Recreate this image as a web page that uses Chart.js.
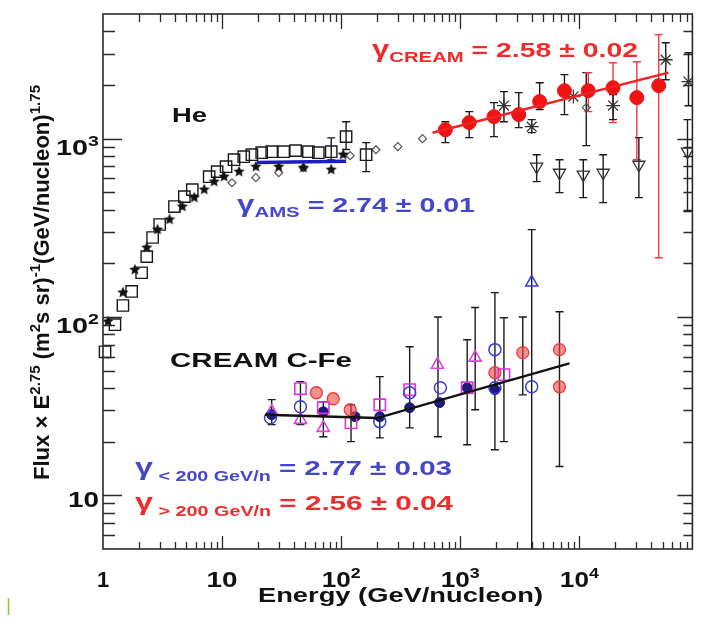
<!DOCTYPE html>
<html>
<head>
<meta charset="utf-8">
<script src="https://cdn.jsdelivr.net/npm/chart.js@4/dist/chart.umd.min.js"></script>
<style>
  html, body { margin: 0; padding: 0; background: #fff; }
  canvas { display: block; }
</style>
</head>
<body>
<canvas id="c" width="702" height="627"></canvas>
<script>
// ---------------- axis ranges and tick labels ----------------
const xMin = 1, xMax = 89000;
const yMin = 5, yMax = 5000;
const xTickVals = [1, 10, 100, 1000, 10000];
const xTickBase = ['1', '10', '10', '10', '10'];
const xTickExp  = ['', '', '2', '3', '4'];
const yTickVals = [10, 100, 1000];
const yTickBase = ['10', '10', '10'];
const yTickExp  = ['', '2', '3'];

// ---------------- He: open squares ----------------
const heSqE  = [1.04, 1.26, 1.47, 1.74, 2.11, 2.33, 2.61, 2.99, 3.98, 4.82, 5.62, 7.79, 9.09, 10.8, 12.6, 15.2, 17.8, 21.5, 26.1, 32.9, 41.4, 53.1, 64.3, 82.5, 110, 162];
const heSqF  = [63.8, 90.5, 116, 139, 177, 218, 279, 330, 416, 473, 518, 612, 653, 696, 762, 792, 813, 834, 845, 845, 857, 845, 834, 845, 1026, 813];
const heSqLo = [null, null, null, null, null, null, null, null, null, null, null, null, null, null, null, null, null, null, null, null, null, null, null, 760, 870, 653];
const heSqHi = [null, null, null, null, null, null, null, null, null, null, null, null, null, null, null, null, null, null, null, null, null, null, null, 1010, 1245, 950];

// ---------------- He: filled stars ----------------
const heStarE = [1.10, 1.47, 1.85, 2.33, 2.87, 3.62, 4.64, 5.84, 7.08, 8.58, 10.4, 13.9, 19.2, 29.9, 48.2, 82.5, 104];
const heStarF = [94.2, 137, 184, 245, 309, 352, 416, 467, 518, 574, 612, 653, 696, 696, 687, 670, 813];

// ---------------- He: small open diamonds ----------------
const heDiaE  = [12.1, 19.2, 29.9, 48.2, 119, 196, 299, 482, 11430];
const heDiaF  = [566, 604, 644, 687, 803, 867, 902, 1000, 1493];
const heDiaLo = [null, null, null, null, null, null, null, null, 914];
const heDiaHi = [null, null, null, null, null, null, null, null, 2345];

// ---------------- He: CREAM (filled red circles) ----------------
const creamE  = [750, 1189, 1920, 3100, 4642, 7499, 11890, 19190, 30400, 46420];
const creamF  = [1122, 1230, 1328, 1364, 1614, 1858, 1858, 1931, 1699, 1982];
const creamLo = [950, 1013, 1026, 1153, 1455, 1364, 1417, 1230, 762, 215];
const creamHi = [1245, 1417, 1593, 1811, 2060, 2285, 2345, 2667, 2700, 3830];

// ---------------- He: asterisks ----------------
const heAstE  = [2327, 3981, 8913, 19190, 53090, 82540];
const heAstF  = [1532, 1167, 1721, 1532, 2770, 2090];
const heAstLo = [1245, 1081, null, 1279, 2140, 1530];
const heAstHi = [1835, 1279, null, 1765, 3450, 3030];

// ---------------- He: open down-triangles ----------------
const heTriE  = [4381, 6813, 10790, 15850, 31620, 80970];
const heTriF  = [696, 644, 628, 644, 714, 845];
const heTriLo = [574, 498, 467, 438, 467, 390];
const heTriHi = [813, 762, 762, 813, 1013, 1279];

// ---------------- CREAM C-Fe ----------------
const cfeMagSqE  = [45.5, 70.8, 121, 211, 376, 1143, 2327];
const cfeMagSqF  = [39.6, 31.0, 25.5, 32.2, 39.1, 40.1, 47.5];
const cfeMagTriE = [26.1, 45.5, 70.8, 643, 1334];
const cfeMagTriF = [29.4, 26.5, 23.9, 54.0, 59.2];
const cfeBlueE   = [25.5, 45.5, 211, 376, 681, 1955, 1955, 3981];
const cfeBlueF   = [27.2, 31.4, 25.9, 37.6, 40.1, 65.6, 40.1, 40.6];
const cfeBlueTriE = [3981];
const cfeBlueTriF = [156];
const cfeNavyE   = [26.1, 70.8, 131, 211, 376, 671, 1143, 1955];
const cfeNavyF   = [28.3, 29.4, 27.6, 27.6, 31.0, 33.1, 40.1, 39.1];
const cfeRedE    = [61.9, 85.8, 119, 1955, 3350, 6813, 6813];
const cfeRedF    = [37.6, 34.8, 30.2, 48.7, 63.1, 65.6, 40.6];
// uncertainty whiskers of the C-Fe groups
const cfeBarE  = [26.1, 45.5, 70.8, 121, 211, 376, 650, 1143, 1334, 1955, 2327, 3350, 3981, 6813];
const cfeBarLo = [24.9, 24.9, 21.3, 20.0, 21.0, 23.9, 21.3, 19.2, 30.2, 18.0, 20.0, 36.6, 5, 14.5];
const cfeBarHi = [34.4, 43.4, 33.5, 32.2, 46.3, 68.1, 100, 74.6, 113, 137, 99, 100, 309, 107];

// ---------------- power-law fits (flux × E^2.75 ∝ E^(2.75-γ)) ----------------
const gammaAMS = 2.74;
const gammaCREAM = 2.58;
const gammaLow = 2.77, gammaHigh = 2.56;
const amsFitE = [19.6, 110];      const amsFitF0 = 735;
const creamFitE = [585, 56000];   const creamFitF0 = 1080;
const cfeFitE = [23, 200, 8260];  const cfeFitF0 = 28.3;

function powerLaw(E, F0, gammas) {
  // broken power law through successive energy nodes
  const out = [{ x: E[0], y: F0 }];
  let f = F0;
  for (let i = 1; i < E.length; i++) {
    f = f * Math.pow(E[i] / E[i - 1], 2.75 - gammas[i - 1]);
    out.push({ x: E[i], y: f });
  }
  return out;
}
const pts = (xs, ys) => xs.map((v, i) => ({ x: v, y: ys[i] }));

// ---------------- marker sprites ----------------
function starSprite(r, color) {
  const s = Math.ceil(r * 2 + 2);
  const c = document.createElement('canvas');
  c.width = c.height = s;
  const g = c.getContext('2d');
  g.fillStyle = color;
  g.beginPath();
  for (let i = 0; i < 10; i++) {
    const a = -Math.PI / 2 + i * Math.PI / 5;
    const rr = i % 2 ? r * 0.45 : r;
    g.lineTo(s / 2 + rr * Math.cos(a), s / 2 + rr * Math.sin(a));
  }
  g.closePath();
  g.fill();
  return c;
}
const starImg = starSprite(6, '#111');

const FONT = '"Liberation Sans", Arial, Helvetica, sans-serif';
const BLUE_TXT = '#4646cc';
const RED_TXT = '#ee2c2c';

// ---------------- plugins ----------------
const errorBars = {
  id: 'errorBars',
  beforeDatasetsDraw(chart) {
    const { ctx, chartArea: a, scales: { x, y } } = chart;
    ctx.save();
    ctx.beginPath();
    ctx.rect(a.left, a.top, a.right - a.left, a.bottom - a.top);
    ctx.clip();
    chart.data.datasets.forEach((ds) => {
      if (!ds.errLo) return;
      ds.data.forEach((p, j) => {
        const lo = ds.errLo[j], hi = ds.errHi[j];
        if (lo == null || hi == null) return;
        const px = x.getPixelForValue(p.x);
        const y1 = y.getPixelForValue(lo), y2 = y.getPixelForValue(hi);
        ctx.strokeStyle = ds.errColor ? ds.errColor(j) : '#1a1a1a';
        ctx.lineWidth = ds.errWidth || 1.4;
        ctx.beginPath();
        ctx.moveTo(px, y1); ctx.lineTo(px, y2);
        const cw = 4;
        ctx.moveTo(px - cw, y2); ctx.lineTo(px + cw, y2);
        if (lo > yMin) { ctx.moveTo(px - cw, y1); ctx.lineTo(px + cw, y1); }
        ctx.stroke();
      });
    });
    ctx.restore();
  }
};

function drawRich(ctx, x, y, parts, color, targetW, align) {
  let w = 0;
  for (const p of parts) {
    ctx.font = `bold ${p.size}px ${FONT}`;
    w += ctx.measureText(p.t).width;
  }
  const sx = targetW ? targetW / w : 1;
  ctx.save();
  ctx.fillStyle = color;
  ctx.textBaseline = 'alphabetic';
  ctx.textAlign = 'left';
  let x0 = x;
  if (align === 'center') x0 = x - w * sx / 2;
  if (align === 'right') x0 = x - w * sx;
  ctx.translate(x0, y);
  ctx.scale(sx, 1);
  let cx = 0;
  for (const p of parts) {
    ctx.font = `bold ${p.size}px ${FONT}`;
    ctx.fillText(p.t, cx, p.dy || 0);
    cx += ctx.measureText(p.t).width;
  }
  ctx.restore();
}

function logTicks(min, max) {
  const out = [];
  for (let d = Math.floor(Math.log10(min)); d <= Math.ceil(Math.log10(max)); d++) {
    for (let m = 1; m <= 9; m++) {
      const v = m * Math.pow(10, d);
      if (v > min * 1.001 && v < max * 0.999) out.push({ v, major: m === 1 });
    }
  }
  return out;
}

const frame = {
  id: 'frame',
  afterDraw(chart) {
    const { ctx, chartArea: a, scales: { x, y } } = chart;
    ctx.save();
    ctx.strokeStyle = '#2a2a2a';
    ctx.lineCap = 'butt';
    // ticks on all four sides, pointing inward
    ctx.lineWidth = 1.3;
    ctx.beginPath();
    for (const t of logTicks(x.min, x.max)) {
      const px = Math.round(x.getPixelForValue(t.v)) + 0.5;
      const lb = t.major ? 13 : 7, lt = t.major ? 15 : 8;
      ctx.moveTo(px, a.bottom); ctx.lineTo(px, a.bottom - lb);
      ctx.moveTo(px, a.top); ctx.lineTo(px, a.top + lt);
    }
    for (const t of logTicks(y.min, y.max)) {
      const py = Math.round(y.getPixelForValue(t.v)) + 0.5;
      const ll = t.major ? 19 : 12, lr = t.major ? 15 : 9;
      ctx.moveTo(a.left, py); ctx.lineTo(a.left + ll, py);
      ctx.moveTo(a.right, py); ctx.lineTo(a.right - lr, py);
    }
    ctx.stroke();
    ctx.lineWidth = 1.6;
    ctx.strokeRect(a.left, a.top, a.right - a.left, a.bottom - a.top);

    // x tick labels
    xTickVals.forEach((v, i) => {
      const px = x.getPixelForValue(v);
      const parts = [{ t: xTickBase[i], size: 22 }];
      if (xTickExp[i]) parts.push({ t: xTickExp[i], size: 15, dy: -9 });
      const w = xTickExp[i] ? 39 : (xTickBase[i].length === 1 ? 0 : 31);
      drawRich(ctx, px, 587, parts, '#111', w || null, 'center');
    });
    // y tick labels
    const yBase = [507, 333, 155];
    yTickVals.forEach((v, i) => {
      const parts = [{ t: yTickBase[i], size: 22 }];
      if (yTickExp[i]) parts.push({ t: yTickExp[i], size: 15, dy: -9 });
      drawRich(ctx, 99, yBase[i], parts, '#111', yTickExp[i] ? 43 : 31, 'right');
    });

    // axis titles
    drawRich(ctx, 258, 602, [{ t: 'Energy (GeV/nucleon)', size: 21 }], '#111', 285);
    ctx.save();
    ctx.translate(49, 480);
    ctx.rotate(-Math.PI / 2);
    drawRich(ctx, 0, 0, [
      { t: 'Flux × E', size: 22 },
      { t: '2.75', size: 15, dy: -9 },
      { t: ' (m', size: 22 },
      { t: '2', size: 15, dy: -9 },
      { t: 's sr)', size: 22 },
      { t: '-1', size: 15, dy: -9 },
      { t: '(GeV/nucleon)', size: 22 },
      { t: '1.75', size: 15, dy: -9 }
    ], '#111', 395);
    ctx.restore();

    // annotations
    drawRich(ctx, 172, 122, [{ t: 'He', size: 20 }], '#111', 35);
    drawRich(ctx, 170, 367, [{ t: 'CREAM C-Fe', size: 21 }], '#111', 182);
    drawRich(ctx, 237, 212, [
      { t: 'γ', size: 23 }, { t: 'AMS', size: 15, dy: 5 }, { t: ' = 2.74 ± 0.01', size: 21 }
    ], BLUE_TXT, 238);
    drawRich(ctx, 372, 57, [
      { t: 'γ', size: 23 }, { t: 'CREAM', size: 15, dy: 5 }, { t: ' = 2.58 ± 0.02', size: 21 }
    ], RED_TXT, 266);
    drawRich(ctx, 135, 475, [
      { t: 'γ', size: 23 }, { t: ' < 200 GeV/n', size: 14, dy: 6 }, { t: ' = 2.77 ± 0.03', size: 21 }
    ], BLUE_TXT, 317);
    drawRich(ctx, 135, 510, [
      { t: 'γ', size: 23 }, { t: ' > 200 GeV/n', size: 14, dy: 6 }, { t: ' = 2.56 ± 0.04', size: 21 }
    ], RED_TXT, 318);

    // small green mark near the lower-left corner
    ctx.strokeStyle = '#8cc63e';
    ctx.lineWidth = 1.5;
    ctx.beginPath(); ctx.moveTo(8.5, 598); ctx.lineTo(8.5, 615); ctx.stroke();
    ctx.restore();
  }
};

// ---------------- chart ----------------
const black = '#1a1a1a';
new Chart(document.getElementById('c'), {
  type: 'scatter',
  data: {
    datasets: [
      { label: 'AMS fit', data: powerLaw(amsFitE, amsFitF0, [gammaAMS]), showLine: true,
        borderColor: '#1b1bc8', borderWidth: 3.5, pointRadius: 0, order: 0 },
      { label: 'CREAM He fit', data: powerLaw(creamFitE, creamFitF0, [gammaCREAM]), showLine: true,
        borderColor: '#f02222', borderWidth: 2.5, pointRadius: 0, order: 0 },
      { label: 'C-Fe fit', data: powerLaw(cfeFitE, cfeFitF0, [gammaLow, gammaHigh]), showLine: true,
        borderColor: '#111', borderWidth: 2.5, pointRadius: 0, order: 0 },

      { label: 'He squares', data: pts(heSqE, heSqF), errLo: heSqLo, errHi: heSqHi, clip: false,
        pointStyle: 'rect', pointRadius: 8, backgroundColor: 'rgba(255,255,255,0)', borderColor: black, borderWidth: 1.4, order: 3 },
      { label: 'He stars', data: pts(heStarE, heStarF), pointStyle: starImg, pointRadius: 6, clip: false, order: 2 },
      { label: 'He diamonds', data: pts(heDiaE, heDiaF), errLo: heDiaLo, errHi: heDiaHi,
        pointStyle: 'rectRot', pointRadius: 4, backgroundColor: 'rgba(255,255,255,0)', borderColor: '#555', borderWidth: 1.2, order: 3 },
      { label: 'CREAM He', data: pts(creamE, creamF), errLo: creamLo, errHi: creamHi,
        errColor: j => (j < 6 ? '#1a1a1a' : '#f03a3a'),
        pointStyle: 'circle', pointRadius: 7, backgroundColor: '#ee1414', borderColor: '#ee1414', borderWidth: 1, order: 1 },
      { label: 'He asterisks', data: pts(heAstE, heAstF), errLo: heAstLo, errHi: heAstHi,
        pointStyle: 'star', pointRadius: 7, borderColor: '#333', borderWidth: 1.3, order: 2 },
      { label: 'He triangles', data: pts(heTriE, heTriF), errLo: heTriLo, errHi: heTriHi,
        pointStyle: 'triangle', rotation: 180, pointRadius: 7, backgroundColor: 'rgba(255,255,255,0)', borderColor: '#333', borderWidth: 1.3, order: 2 },

      { label: 'C-Fe bars', data: pts(cfeBarE, cfeBarLo), errLo: cfeBarLo, errHi: cfeBarHi,
        pointRadius: 0, order: 5 },
      { label: 'C-Fe red', data: pts(cfeRedE, cfeRedF), pointStyle: 'circle', pointRadius: 6,
        backgroundColor: 'rgba(240,70,70,0.6)', borderColor: '#e83a3a', borderWidth: 1.3, order: 4 },
      { label: 'C-Fe navy', data: pts(cfeNavyE, cfeNavyF), pointStyle: 'circle', pointRadius: 5,
        backgroundColor: '#1c1c78', borderColor: '#1c1c78', borderWidth: 1, order: 4 },
      { label: 'C-Fe blue', data: pts(cfeBlueE, cfeBlueF), pointStyle: 'circle', pointRadius: 6,
        backgroundColor: 'rgba(255,255,255,0)', borderColor: '#3a3ae0', borderWidth: 1.5, order: 3 },
      { label: 'C-Fe blue triangle', data: pts(cfeBlueTriE, cfeBlueTriF), pointStyle: 'triangle', pointRadius: 7,
        backgroundColor: 'rgba(255,255,255,0)', borderColor: '#3a3ae0', borderWidth: 1.5, order: 3 },
      { label: 'C-Fe magenta squares', data: pts(cfeMagSqE, cfeMagSqF), pointStyle: 'rect', pointRadius: 8,
        backgroundColor: 'rgba(255,255,255,0)', borderColor: '#dd33dd', borderWidth: 1.6, order: 3 },
      { label: 'C-Fe magenta triangles', data: pts(cfeMagTriE, cfeMagTriF), pointStyle: 'triangle', pointRadius: 7,
        backgroundColor: 'rgba(255,255,255,0)', borderColor: '#e040e0', borderWidth: 1.6, order: 3 }
    ]
  },
  options: {
    responsive: false,
    devicePixelRatio: 1,
    animation: false,
    layout: { padding: { left: 103, top: 14, right: 5, bottom: 78 } },
    plugins: { legend: { display: false }, tooltip: { enabled: false } },
    scales: {
      x: { type: 'logarithmic', min: xMin, max: xMax, display: false },
      y: { type: 'logarithmic', min: yMin, max: yMax, display: false }
    }
  },
  plugins: [errorBars, frame]
});
</script>
</body>
</html>
